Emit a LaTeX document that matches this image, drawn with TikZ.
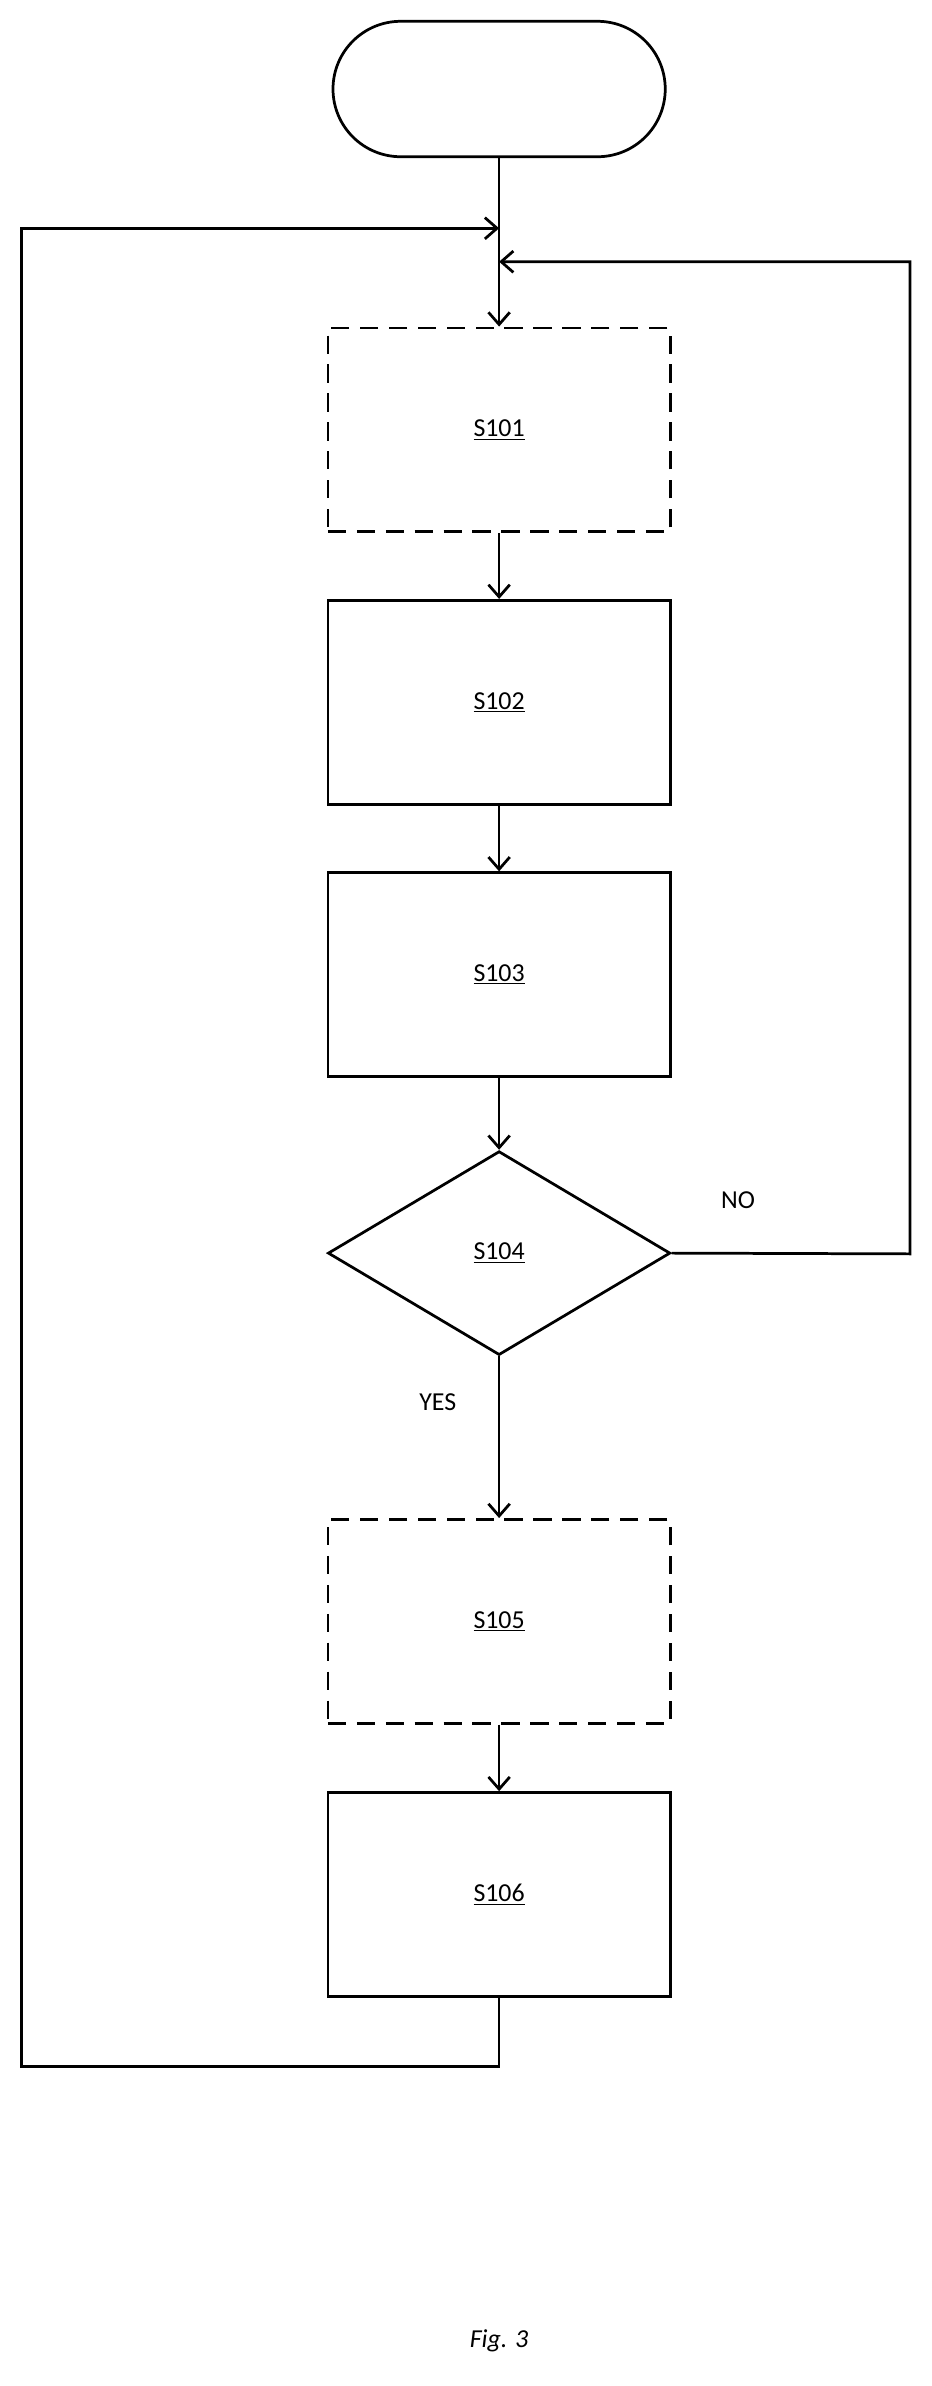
\documentclass[tikz,border=0pt]{standalone}
\usepackage{fontspec}
\setmainfont{Carlito}
\usetikzlibrary{shapes.geometric,shapes.misc,arrows.meta}
\begin{document}
\begin{tikzpicture}[x=1pt,y=-1pt,line width=1.8pt,
  box/.style={draw,minimum width=225pt,minimum height=134pt,inner sep=0pt},
  dbox/.style={box,dash pattern=on 12pt off 7pt},
  arr/.style={-{Straight Barb[length=8pt,width=14pt]}},
  every node/.style={font=\fontsize{17}{20}\selectfont}]
\useasboundingbox (0,0) rectangle (612,1568);
\node[draw,rounded rectangle,minimum width=225pt,minimum height=89pt] (start) at (328,58.5) {};
\node[dbox] (s101) at (328,282.5) {\underline{S101}};
\node[box] (s102) at (328,461.5) {\underline{S102}};
\node[box] (s103) at (328,640.5) {\underline{S103}};
\node[draw,diamond,aspect=1.69,minimum width=225pt,minimum height=134pt,inner sep=0pt] (s104) at (328,823.5) {\underline{S104}};
\node[dbox] (s105) at (328,1065.5) {\underline{S105}};
\node[box] (s106) at (328,1245) {\underline{S106}};
\coordinate (j1) at (328,150);
\coordinate (j2) at (328,172);
\draw (start) -- (j1);
\draw[arr] (j1) -- (s101);
\draw[arr] (s101) -- (s102);
\draw[arr] (s102) -- (s103);
\draw[arr] (s103) -- (s104);
\draw[arr] (s104) -- node[pos=0.28,left=24pt]{YES} (s105);
\draw[arr] (s105) -- (s106);
\draw[arr] (s104.east) -- (598,824) -- (598,172) -- (j2);
\node at (485,789) {NO};
\draw[arr] (s106.south) -- (328,1358) -- (14,1358) -- (14,150) -- (j1);
\node (fig) at (328,1538) {\itshape Fig. 3};
\end{tikzpicture}
\end{document}
